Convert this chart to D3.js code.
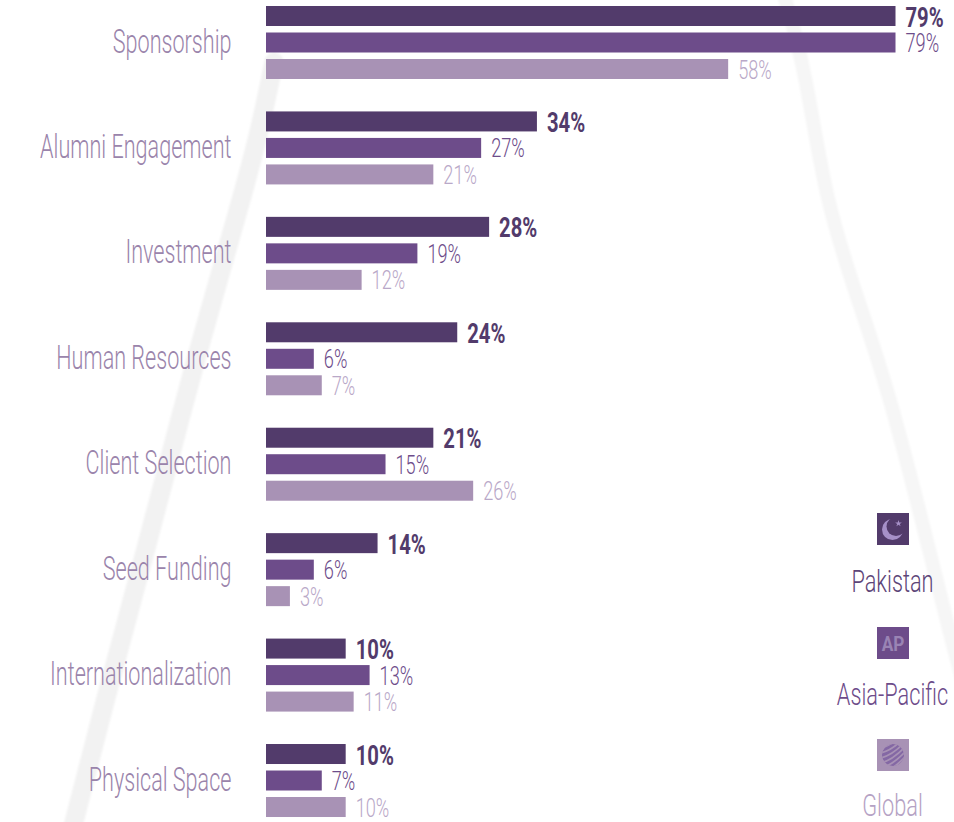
<!DOCTYPE html>
<html>
<head>
<meta charset="utf-8">
<title>Perceived areas of support</title>
<script src="https://cdn.jsdelivr.net/npm/d3@7/dist/d3.min.js"></script>
<style>
html, body { margin: 0; padding: 0; background: #fff; }
svg { display: block; }
text { font-family: Roboto, "Noto Sans", sans-serif; }
</style>
</head>
<body>
<svg id="chart" width="954" height="822"></svg>
<script>
const categories = ["Sponsorship", "Alumni Engagement", "Investment", "Human Resources",
  "Client Selection", "Seed Funding", "Internationalization", "Physical Space"];
const regions = ["Pakistan", "Asia-Pacific", "Global"];
const pakistan = [79, 34, 28, 24, 21, 14, 10, 10];
const asiaPacific = [79, 27, 19, 6, 15, 6, 13, 7];
const globalShare = [58, 21, 12, 7, 26, 3, 11, 10];
const barColors = ["#523b6b", "#6d4c8a", "#a892b5"];
const labelColors = ["#523b6b", "#6d4c8a", "#b9a8c8"];
const legendTextColors = ["#5d4578", "#6d4c8a", "#b5a2c4"];

const svg = d3.select("#chart");

// Soft brush strokes behind the chart
const soft = svg.append("defs").append("filter").attr("id", "soft");
soft.append("feGaussianBlur").attr("stdDeviation", 1.2);
const brush = d3.line().curve(d3.curveBasis);
const strokes = [
  { pts: [[274, 62], [262, 120], [247, 181], [197, 352], [147, 546], [105, 700], [72, 830]], w: 19, c: "#f2f2f2" },
  { pts: [[784, -5], [805, 67], [825, 200], [858, 300], [886, 383], [917, 500], [950, 635], [965, 690]], w: 14, c: "#f6f6f6" }
];
svg.append("g").attr("filter", "url(#soft)").selectAll("path").data(strokes).join("path")
  .attr("d", d => brush(d.pts))
  .attr("fill", "none")
  .attr("stroke", d => d.c)
  .attr("stroke-width", d => d.w)
  .attr("stroke-linecap", "round");

const x = d3.scaleLinear().domain([0, 79]).range([266, 895.5]);
const y = d3.scaleBand().domain(categories).range([6, 6 + 105.43 * categories.length]);
const offset = d3.scalePoint().domain(regions).range([0, 53]);
const barHeight = 20;
const seriesValues = [pakistan, asiaPacific, globalShare];

// Narrowed text: a condensed look obtained by squeezing the glyphs horizontally
function condensed(sel, px, py, sx) {
  sel.attr("transform", `translate(${px},${py}) scale(${sx},1)`);
}

// Category labels
svg.append("g").selectAll("text").data(categories).join("text")
  .text(d => d)
  .attr("text-anchor", "end")
  .attr("font-size", 33)
  .attr("font-weight", 300)
  .attr("fill", "#9a84ab")
  .each(function (d) { condensed(d3.select(this), 231.5, y(d) + 46.6, 0.655); });

// Bars and value labels, one group per region
regions.forEach((region, s) => {
  const rows = categories.map((c, i) => ({ c, v: seriesValues[s][i] }));
  const g = svg.append("g");
  g.selectAll("rect").data(rows).join("rect")
    .attr("x", x(0))
    .attr("y", d => y(d.c) + offset(region))
    .attr("width", d => x(d.v) - x(0))
    .attr("height", barHeight)
    .attr("fill", barColors[s]);
  g.selectAll("text").data(rows).join("text")
    .text(d => d.v + "%")
    .attr("font-size", s === 0 ? 27 : 26)
    .attr("font-weight", s === 0 ? 700 : 300)
    .attr("fill", labelColors[s])
    .each(function (d) {
      condensed(d3.select(this), x(d.v) + 10, y(d.c) + offset(region) + (s === 0 ? 20.5 : 19.5), s === 0 ? 0.75 : 0.7);
    });
});

// Legend: icon squares with region names underneath
const iconTop = [513, 627, 739];
const legendBaseline = [592, 705, 816];
const iconSize = 32;
const iconX = 877;
const legend = svg.append("g");
regions.forEach((region, s) => {
  legend.append("rect")
    .attr("x", iconX).attr("y", iconTop[s])
    .attr("width", iconSize).attr("height", iconSize)
    .attr("fill", barColors[s]);
  legend.append("text").text(region)
    .attr("text-anchor", "middle")
    .attr("font-size", 32)
    .attr("font-weight", 300)
    .attr("fill", legendTextColors[s])
    .call(condensed, 892.5, legendBaseline[s], 0.68);
});

// Crescent and star
const pk = legend.append("g").attr("transform", `translate(${iconX},${iconTop[0]})`);
pk.append("circle").attr("cx", 15.5).attr("cy", 16.5).attr("r", 10.5).attr("fill", "#a690c8");
pk.append("circle").attr("cx", 19).attr("cy", 13.5).attr("r", 9.5).attr("fill", barColors[0]);
pk.append("path").attr("d", d3.symbol(d3.symbolStar, 14)())
  .attr("transform", "translate(21.5,10.5)").attr("fill", "#a690c8");

// AP monogram
legend.append("text").text("AP")
  .attr("text-anchor", "middle")
  .attr("font-size", 21)
  .attr("font-weight", 700)
  .attr("fill", "#9a84b4")
  .call(condensed, iconX + 16, iconTop[1] + 23.5, 0.82);

// Striped globe
const cx = iconX + 16, cy = iconTop[2] + 16, r = 11;
svg.append("clipPath").attr("id", "globe-clip")
  .append("circle").attr("cx", cx).attr("cy", cy).attr("r", r);
const globe = legend.append("g").attr("clip-path", "url(#globe-clip)");
globe.append("circle").attr("cx", cx).attr("cy", cy).attr("r", r).attr("fill", "#8468a4");
[-12, -7, -2, 3, 8, 13].forEach(d => {
  globe.append("path")
    .attr("d", `M${cx - 13},${cy + d + 5} Q${cx - 1},${cy + d + 3} ${cx + 13},${cy + d - 12}`)
    .attr("fill", "none").attr("stroke", barColors[2]).attr("stroke-width", 1.8);
});
</script>
</body>
</html>
